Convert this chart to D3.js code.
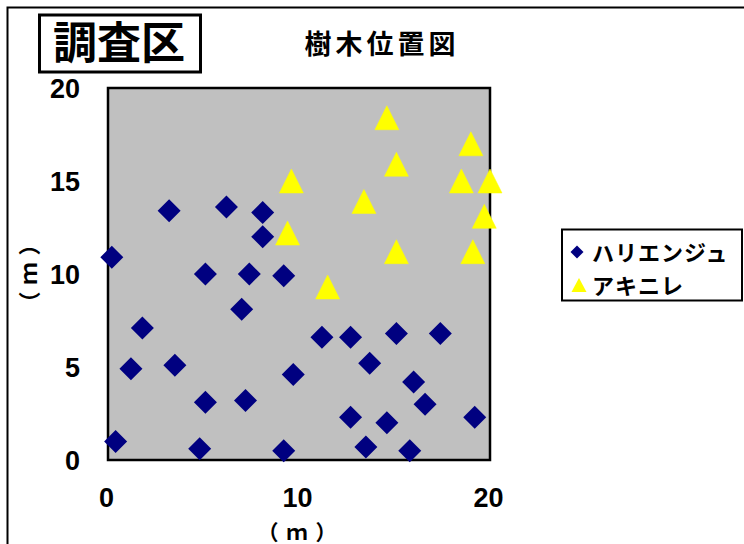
<!DOCTYPE html>
<html><head><meta charset="utf-8">
<script src="https://cdn.jsdelivr.net/npm/d3@7"></script>
<style>body{margin:0;background:#fff;}svg{display:block;}</style>
</head><body>
<script>
const harienjuX = [0.4,0.2,1.2,1.8,3.2,3.5,5.1,5.1,4.8,6.2,7.4,9.2,7.0,9.7,7.2,9.2,8.1,8.1,11.2,12.7,15.1,17.4,13.7,16.0,16.6,12.7,14.6,19.2,13.5,15.8];
const harienjuY = [1.0,10.9,4.9,7.1,13.4,5.1,10.0,3.1,0.6,13.6,10.0,9.9,8.1,4.6,3.2,0.5,13.3,12.0,6.6,6.6,6.8,6.8,5.2,4.2,3.0,2.3,2.0,2.3,0.7,0.5];
const akiniX = [14.6,19.0,15.1,9.6,18.5,20.0,13.4,19.7,9.4,15.1,19.1,11.5];
const akiniY = [18.4,17.0,15.9,15.0,15.0,15.0,13.9,13.1,12.2,11.2,11.2,9.3];
const xTicks = [0,10,20];
const yTicks = [0,5,10,15,20];
const seriesNames = ["ハリエンジュ","アキニレ"];
const chartTitle = "樹木位置図";
const boxTitle = "調査区";
const axisUnit = "（ｍ）";

const W = 744, H = 544;
const svg = d3.select("body").append("svg").attr("width", W).attr("height", H);
const jp = "'Noto Sans CJK JP','Noto Sans',sans-serif";
const num = "'Liberation Sans',Arial,sans-serif";

// outer frame (extends beyond right/bottom)
svg.append("rect").attr("x",7.5).attr("y",7.5).attr("width",780).attr("height",580)
  .attr("fill","#fff").attr("stroke","#000").attr("stroke-width",2);

const x = d3.scaleLinear().domain([0,20]).range([108,490]);
const y = d3.scaleLinear().domain([0,20]).range([460,88]);

// plot area
svg.append("rect").attr("x",x(0)).attr("y",y(20)).attr("width",x(20)-x(0)).attr("height",y(0)-y(20))
  .attr("fill","#C0C0C0").attr("stroke","#000").attr("stroke-width",2.5);

// title box
svg.append("rect").attr("x",39.5).attr("y",15).attr("width",161).attr("height",57)
  .attr("fill","#fff").attr("stroke","#000").attr("stroke-width",3);
svg.append("text").attr("x",119).attr("y",59).attr("text-anchor","middle")
  .attr("font-family",jp).attr("font-weight","bold").attr("font-size",44).text(boxTitle);

svg.append("text").attr("x",382).attr("y",54).attr("text-anchor","middle")
  .attr("font-family",jp).attr("font-weight","bold").attr("font-size",27).attr("letter-spacing",4).text(chartTitle);

// axes (labels only)
const yAxis = d3.axisLeft(y).tickValues(yTicks).tickSize(0).tickPadding(0);
const gy = svg.append("g").attr("transform","translate(80,0)").call(yAxis);
gy.select(".domain").remove();
gy.selectAll("text").attr("font-family",num).attr("font-weight","bold").attr("font-size",27).attr("fill","#000").attr("dy","0.36em");

const xAxis = d3.axisBottom(x).tickValues(xTicks).tickSize(0).tickPadding(0);
const gx = svg.append("g").attr("transform","translate(-2,488)").call(xAxis);
gx.select(".domain").remove();
gx.selectAll("text").attr("font-family",num).attr("font-weight","bold").attr("font-size",27).attr("fill","#000").attr("dy","0.7em");

svg.append("text").attr("x",301).attr("y",539.5).attr("text-anchor","middle")
  .attr("font-family",jp).attr("font-weight","bold").attr("font-size",21).attr("letter-spacing",8).text(axisUnit);
svg.append("text").attr("transform","translate(37,270) rotate(-90)").attr("text-anchor","middle")
  .attr("font-family",jp).attr("font-weight","bold").attr("font-size",22).attr("letter-spacing",7).text(axisUnit);

// markers
const diamond = r => `M0,${-r}L${r},0L0,${r}L${-r},0Z`;
const tri = (w,h) => `M0,${-h/2}L${w/2},${h/2}L${-w/2},${h/2}Z`;
svg.append("g").selectAll("path").data(harienjuX.map((v,i)=>[v,harienjuY[i]])).join("path")
  .attr("d", diamond(11.5)).attr("transform", d=>`translate(${x(d[0])},${y(d[1])})`)
  .attr("fill","#000080");
svg.append("g").selectAll("path").data(akiniX.map((v,i)=>[v,akiniY[i]])).join("path")
  .attr("d", tri(24,24)).attr("transform", d=>`translate(${x(d[0])},${y(d[1])})`)
  .attr("fill","#FFFF00").attr("stroke","#FFFF00").attr("stroke-width",0.5).attr("stroke-linejoin","round");

// legend
const lg = svg.append("g");
lg.append("rect").attr("x",562).attr("y",229.5).attr("width",180).attr("height",71)
  .attr("fill","#fff").attr("stroke","#000").attr("stroke-width",2);
lg.append("path").attr("d",diamond(6.5)).attr("transform","translate(577,252)").attr("fill","#000080");
lg.append("path").attr("d",tri(15,14)).attr("transform","translate(579,285)").attr("fill","#FFFF00");
lg.append("text").attr("x",592).attr("y",261).attr("font-family",jp).attr("font-weight","bold")
  .attr("font-size",22).attr("letter-spacing",1).text(seriesNames[0]);
lg.append("text").attr("x",592).attr("y",294).attr("font-family",jp).attr("font-weight","bold")
  .attr("font-size",22).attr("letter-spacing",1).text(seriesNames[1]);
</script>
</body></html>
